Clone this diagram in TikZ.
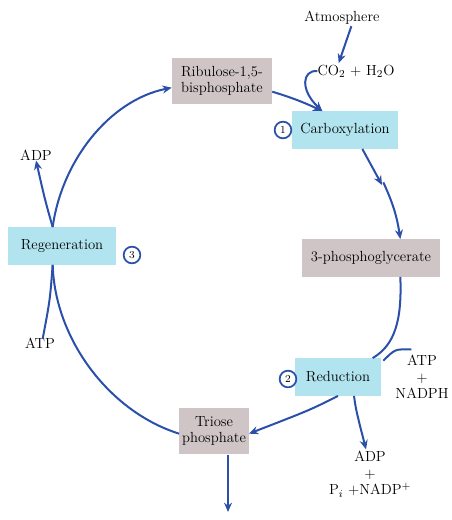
\documentclass[tikz,border=0pt]{standalone}
\usetikzlibrary{arrows.meta}
\definecolor{stagecol}{RGB}{178,228,240}
\definecolor{compcol}{RGB}{207,197,198}
\definecolor{flowcol}{RGB}{42,80,170}
\newcommand{\diagfont}{\fontsize{11}{12.5}\selectfont}
\tikzset{
  stage/.style = {fill = stagecol, minimum height = 28pt, inner sep = 2pt, font = \diagfont},
  compound/.style = {fill = compcol, minimum height = 28pt, inner sep = 2pt, align = center,
                     font = \diagfont},
  flow/.style = {draw = flowcol, line width = 1.5pt, -{Stealth[length = 7pt, width = 6pt]}},
  link/.style = {draw = flowcol, line width = 1.5pt},
  stepnum/.style = {circle, draw = flowcol, line width = 1.3pt, inner sep = 0pt,
                    minimum size = 12.5pt, font = \footnotesize},
  plain/.style = {align = center, font = \diagfont, inner sep = 1pt}
}
\begin{document}
\begin{tikzpicture}[x = 0.75pt, y = -0.75pt]
  \useasboundingbox (0, 0) rectangle (451, 520);
  % boxes of the cycle
  \node[compound, minimum width = 75pt, minimum height = 34pt] (rubp) at (222, 81)
       {Ribulose-1,5-\\bisphosphate};
  \node[stage, minimum width = 79pt] (carb) at (345, 130) {Carboxylation};
  \node[compound, minimum width = 104pt] (pga) at (371, 258) {3-phosphoglycerate};
  \node[stage, minimum width = 65pt] (red) at (338, 377) {Reduction};
  \node[compound, minimum width = 47pt, minimum height = 35pt] (triose) at (214, 431)
       {Triose\\phosphate};
  \node[stage, minimum width = 81pt] (regen) at (62, 246) {Regeneration};
  % step numbers
  \node[stepnum] (one) at (283, 130) {1};
  \node[stepnum] (two) at (288, 379) {2};
  \node[stepnum] (three) at (132, 255) {3};
  % side texts
  \node[plain] (atm) at (342, 18) {Atmosphere};
  \node[plain] (co2) at (356, 71) {CO$_2$ + H$_2$O};
  \node[plain] (atpin) at (422, 377) {ATP\\+\\NADPH};
  \node[plain] (adpout) at (370, 474) {ADP\\+\\P$_i$ +NADP$^+$};
  \node[plain] (atpr) at (40, 343) {ATP};
  \node[plain] (adpr) at (36, 155) {ADP};
  \coordinate (sink) at (228, 512);
  \coordinate (mid) at (382, 185);
  % connectors
  \draw[flow] ([xshift = 7pt]atm.south) -- ([xshift = -13pt]co2.north);
  \draw[flow] ([xshift = 1pt]co2.west) .. controls (302, 70) and (300, 90)
           .. ([xshift = -17pt]carb.north);
  \draw[flow] ([yshift = -8pt]rubp.east) to[bend left = 4] ([xshift = -17pt]carb.north);
  \draw[flow] ([xshift = 13pt]carb.south) -- (mid);
  \draw[flow] ([xshift = 1pt, yshift = 2pt]mid) to[bend left = 8] ([xshift = 22pt]pga.north);
  \draw[link] ([xshift = 22pt]pga.south) .. controls (402, 320) and (395, 345)
           .. ([xshift = 26pt]red.north);
  \draw[link] ([xshift = -8pt, yshift = 3pt]atpin.north) .. controls (395, 349)
           .. ([xshift = 34pt, yshift = -2pt]red.north);
  \draw[flow] ([xshift = 12pt]red.south) .. controls (356, 410) .. ([xshift = -3pt]adpout.north);
  \draw[flow] ([xshift = 0pt]red.south) .. controls (310, 410) .. ([yshift = -2pt]triose.east);
  \draw[flow] (triose.south -| sink) -- (sink);
  \draw[link] ([yshift = -2pt]triose.west) .. controls (110, 412) and (55, 340) .. ([xshift = -7pt]regen.south);
  \draw[link] ([xshift = 2pt, yshift = -2pt]atpr.north) .. controls (50, 300) .. ([xshift = -7pt]regen.south);
  \draw[flow] ([xshift = -7pt]regen.north) .. controls (45, 200) .. ([yshift = 1pt]adpr.south);
  \draw[flow] ([xshift = -7pt]regen.north) .. controls (62, 160) and (110, 100)
           .. ([yshift = -5pt]rubp.west);
\end{tikzpicture}
\end{document}
